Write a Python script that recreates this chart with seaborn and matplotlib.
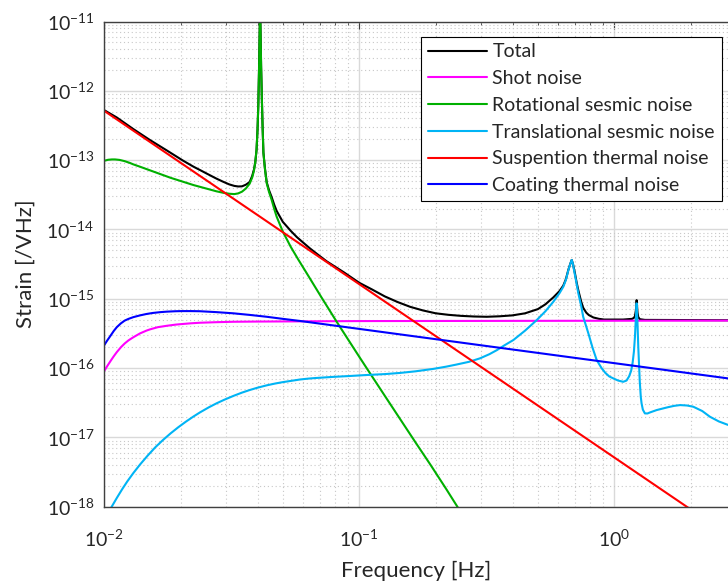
import matplotlib
matplotlib.use('Agg')  # no display
import numpy as np
import pandas as pd
import matplotlib.pyplot as plt
import seaborn as sns
from matplotlib.ticker import LogLocator, NullFormatter

# values, stored as log10(frequency [Hz]) and log10(strain)
names = ['Total', 'Shot noise', 'Rotational sesmic noise', 'Translational sesmic noise',
         'Suspention thermal noise', 'Coating thermal noise']
colors = ['#000000', '#ff00ff', '#00b000', '#00b4f5', '#ff0000', '#0000ff']

total_lf = [-2.0, -1.951, -1.887, -1.821, -1.755, -1.69, -1.65, -1.62, -1.59, -1.56, -1.535, -1.51,
            -1.49, -1.475, -1.46, -1.445, -1.43, -1.42, -1.413, -1.408, -1.403, -1.399, -1.396,
            -1.393, -1.391, -1.389, -1.387, -1.385, -1.382, -1.379, -1.376, -1.37, -1.363, -1.354,
            -1.344, -1.334, -1.324, -1.3, -1.282, -1.269, -1.245, -1.22, -1.193, -1.16, -1.128,
            -1.06, -1.0, -0.95, -0.9, -0.85, -0.8, -0.75, -0.7, -0.65, -0.6, -0.55, -0.5, -0.45,
            -0.4, -0.35, -0.3, -0.27, -0.239, -0.215, -0.2, -0.19, -0.18, -0.172, -0.167, -0.162,
            -0.155, -0.148, -0.141, -0.13, -0.122, -0.11, -0.1, -0.082, -0.06, -0.04, 0.035, 0.07,
            0.077, 0.081, 0.085, 0.0876, 0.091, 0.094, 0.1, 0.12, 0.446]
total_ls = [-12.28, -12.385, -12.55, -12.71, -12.86, -13.01, -13.095, -13.152, -13.21, -13.267,
            -13.31, -13.35, -13.372, -13.38, -13.378, -13.355, -13.316, -13.228, -13.135, -13.035,
            -12.855, -12.55, -12.2, -11.65, -11.2, -10.8, -11.2, -11.65, -12.13, -12.55, -12.89,
            -13.12, -13.32, -13.434, -13.53, -13.64, -13.733, -13.89, -13.965, -14.02, -14.11,
            -14.19, -14.275, -14.37, -14.46, -14.62, -14.77, -14.866, -14.966, -15.047, -15.117,
            -15.169, -15.21, -15.232, -15.247, -15.256, -15.26, -15.253, -15.24, -15.21, -15.15,
            -15.08, -14.98, -14.89, -14.81, -14.72, -14.58, -14.49, -14.44, -14.5, -14.62, -14.76,
            -14.88, -15.04, -15.13, -15.2, -15.235, -15.27, -15.29, -15.3, -15.3, -15.29, -15.275,
            -15.25, -15.16, -15.02, -15.2, -15.265, -15.295, -15.305, -15.31]

shot_lf = [-2.0, -1.99, -1.975, -1.963, -1.951, -1.935, -1.92, -1.905, -1.886, -1.86, -1.835,
           -1.821, -1.79, -1.755, -1.72, -1.696, -1.66, -1.625, -1.56, -1.494, -1.4, -1.233, -1.0, 0.446]
shot_ls = [-16.04, -15.98, -15.895, -15.83, -15.77, -15.7, -15.645, -15.6, -15.555, -15.5, -15.46,
           -15.442, -15.41, -15.39, -15.373, -15.365, -15.354, -15.346, -15.338, -15.332, -15.329,
           -15.326, -15.322, -15.315]

rot_lf = [-2.0, -1.985, -1.97, -1.958, -1.94, -1.92, -1.9, -1.887, -1.86, -1.83, -1.8, -1.77, -1.74,
          -1.71, -1.68, -1.65, -1.62, -1.59, -1.56, -1.535, -1.51, -1.49, -1.475, -1.46, -1.445,
          -1.43, -1.42, -1.413, -1.408, -1.403, -1.399, -1.396, -1.393, -1.391, -1.389, -1.387,
          -1.385, -1.382, -1.379, -1.376, -1.37, -1.363, -1.354, -1.344, -1.334, -1.324, -1.3,
          -1.269, -1.24, -1.206, -1.15, -1.089, -1.04, -0.997, -0.958, -0.9, -0.84, -0.78, -0.72,
          -0.66, -0.612, -0.55]
rot_ls = [-13.009, -12.995, -12.99, -12.99, -12.997, -13.015, -13.04, -13.06, -13.095, -13.135,
          -13.175, -13.215, -13.255, -13.29, -13.325, -13.36, -13.39, -13.42, -13.45, -13.47, -13.485,
          -13.49, -13.48, -13.455, -13.41, -13.34, -13.25, -13.15, -13.03, -12.85, -12.55, -12.2,
          -11.65, -11.2, -10.8, -11.2, -11.65, -12.13, -12.55, -12.898, -13.13, -13.335, -13.46,
          -13.57, -13.7, -13.817, -14.03, -14.25, -14.43, -14.633, -14.97, -15.33, -15.61, -15.855,
          -16.075, -16.4, -16.735, -17.07, -17.4, -17.74, -18.02, -18.4]

trans_lf = [-2.0, -1.971, -1.95, -1.93, -1.91, -1.886, -1.86, -1.83, -1.8, -1.77, -1.74, -1.71, -1.68,
            -1.65, -1.625, -1.59, -1.56, -1.53, -1.494, -1.46, -1.43, -1.4, -1.363, -1.33, -1.3,
            -1.27, -1.233, -1.2, -1.17, -1.14, -1.102, -1.04, -0.971, -0.9, -0.84, -0.78, -0.71,
            -0.66, -0.62, -0.57, -0.527, -0.49, -0.46, -0.43, -0.396, -0.35, -0.304, -0.27, -0.239,
            -0.215, -0.2, -0.19, -0.18, -0.172, -0.167, -0.162, -0.158, -0.15, -0.141, -0.13, -0.122,
            -0.11, -0.1, -0.085, -0.069, -0.05, -0.035, -0.02, -0.004, 0.015, 0.035, 0.048, 0.058,
            0.066, 0.072, 0.077, 0.081, 0.085, 0.0876, 0.091, 0.094, 0.1, 0.104, 0.107, 0.112, 0.12,
            0.13, 0.14, 0.166, 0.21, 0.235, 0.258, 0.285, 0.31, 0.345, 0.375, 0.41, 0.446]
trans_ls = [-18.19, -18.0, -17.868, -17.748, -17.636, -17.514, -17.392, -17.263, -17.143, -17.038,
            -16.942, -16.854, -16.773, -16.698, -16.64, -16.566, -16.509, -16.458, -16.402, -16.354,
            -16.317, -16.284, -16.249, -16.223, -16.203, -16.186, -16.165, -16.152, -16.143, -16.136,
            -16.127, -16.115, -16.1, -16.087, -16.07, -16.047, -16.012, -15.98, -15.95, -15.91,
            -15.86, -15.8, -15.74, -15.67, -15.596, -15.46, -15.307, -15.18, -15.043, -14.92, -14.827,
            -14.73, -14.586, -14.49, -14.44, -14.5, -14.586, -14.74, -14.922, -15.1, -15.26, -15.4,
            -15.52, -15.71, -15.885, -16.0, -16.07, -16.12, -16.149, -16.18, -16.198, -16.18, -16.12,
            -16.04, -15.92, -15.76, -15.548, -15.25, -15.066, -15.35, -15.693, -16.2, -16.42, -16.51,
            -16.6, -16.654, -16.655, -16.64, -16.606, -16.565, -16.545, -16.534, -16.54, -16.558,
            -16.62, -16.702, -16.77, -16.82]

susp_lf = [-2.0, 0.446]
susp_ls = [-12.29, -18.405]

coat_lf = [-2.0, -1.99, -1.975, -1.963, -1.951, -1.935, -1.92, -1.905, -1.886, -1.86, -1.835, -1.81,
           -1.78, -1.755, -1.72, -1.696, -1.66, -1.625, -1.56, -1.494, -1.43, -1.363, -1.3, -1.233,
           -1.0, -0.723, -0.527, 0.0, 0.446]
coat_ls = [-15.668, -15.61, -15.53, -15.465, -15.41, -15.355, -15.315, -15.29, -15.265, -15.24,
           -15.22, -15.205, -15.193, -15.186, -15.18, -15.178, -15.178, -15.18, -15.193, -15.21,
           -15.233, -15.26, -15.29, -15.32, -15.435, -15.572, -15.669, -15.929, -16.149]

series = [(total_lf, total_ls), (shot_lf, shot_ls), (rot_lf, rot_ls),
          (trans_lf, trans_ls), (susp_lf, susp_ls), (coat_lf, coat_ls)]

frames = []
for name, (lf, ls) in zip(names, series):
    frames.append(pd.DataFrame({'Frequency': 10 ** np.array(lf), 'Strain': 10 ** np.array(ls), 'curve': name}))
df = pd.concat(frames, ignore_index=True)

sns.set_style('white')
plt.rcParams['font.family'] = ['Lato', 'DejaVu Sans']
plt.rcParams['mathtext.fontset'] = 'custom'
plt.rcParams['mathtext.rm'] = 'Lato'
plt.rcParams['mathtext.it'] = 'Lato:italic'
plt.rcParams['mathtext.bf'] = 'Lato:bold'

fig = plt.figure(figsize=(7.28, 5.84), dpi=100)
ax = fig.add_axes([104.3 / 728, 1 - 506.7 / 584, 1 - 104.3 / 728, (506.7 - 21.5) / 584])

sns.lineplot(data=df, x='Frequency', y='Strain', hue='curve', hue_order=names,
             palette=dict(zip(names, colors)), estimator=None, sort=False, lw=1.5, ax=ax)

ax.set_xscale('log')
ax.set_yscale('log')
ax.set_xticks([1e-2, 1e-1, 1e0])
ax.set_yticks([10.0 ** e for e in range(-18, -10)])
ax.xaxis.set_minor_locator(LogLocator(base=10, subs=np.arange(2, 10), numticks=20))
ax.yaxis.set_minor_locator(LogLocator(base=10, subs=np.arange(2, 10), numticks=40))
ax.xaxis.set_minor_formatter(NullFormatter())
ax.yaxis.set_minor_formatter(NullFormatter())
ax.set_xlim(1e-2, 10 ** 0.4459)
ax.set_ylim(1e-18, 1e-11)

# matlab style grid
ax.grid(True, which='major', color='#d9d9d9', lw=1.0, ls='-')
ax.grid(True, which='minor', color='#c8c8c8', lw=0.8, ls=(0, (1, 2.5)))
ax.set_axisbelow(True)

for side in ['left', 'bottom', 'top']:
    ax.spines[side].set_color('#404040')
    ax.spines[side].set_linewidth(1.0)
ax.spines['right'].set_visible(False)
ax.tick_params(which='both', direction='in', top=True, right=False, colors='#404040',
               labelcolor='#262626', labelsize=14)
ax.tick_params(which='major', length=5, width=0.8)
ax.tick_params(which='minor', length=2.5, width=0.6)
ax.tick_params(axis='y', which='major', pad=7)
ax.tick_params(axis='x', which='major', pad=16)

ax.set_xlabel('Frequency [Hz]', fontsize=16, color='#262626', labelpad=8)
ax.set_ylabel('Strain [/VHz]', fontsize=16, color='#262626', labelpad=8)

handles, labels = ax.get_legend_handles_labels()
leg = ax.legend(handles, labels, loc='upper right', bbox_to_anchor=(0.9899, 0.9687), borderaxespad=0,
                fontsize=14, frameon=True, fancybox=False, framealpha=1, edgecolor='black',
                handlelength=3.0, handletextpad=0.3, labelspacing=0.5, borderpad=0.35)
leg.get_frame().set_linewidth(0.8)
for line in leg.get_lines():
    line.set_linewidth(1.5)

fig.savefig('out.png', dpi=100)
